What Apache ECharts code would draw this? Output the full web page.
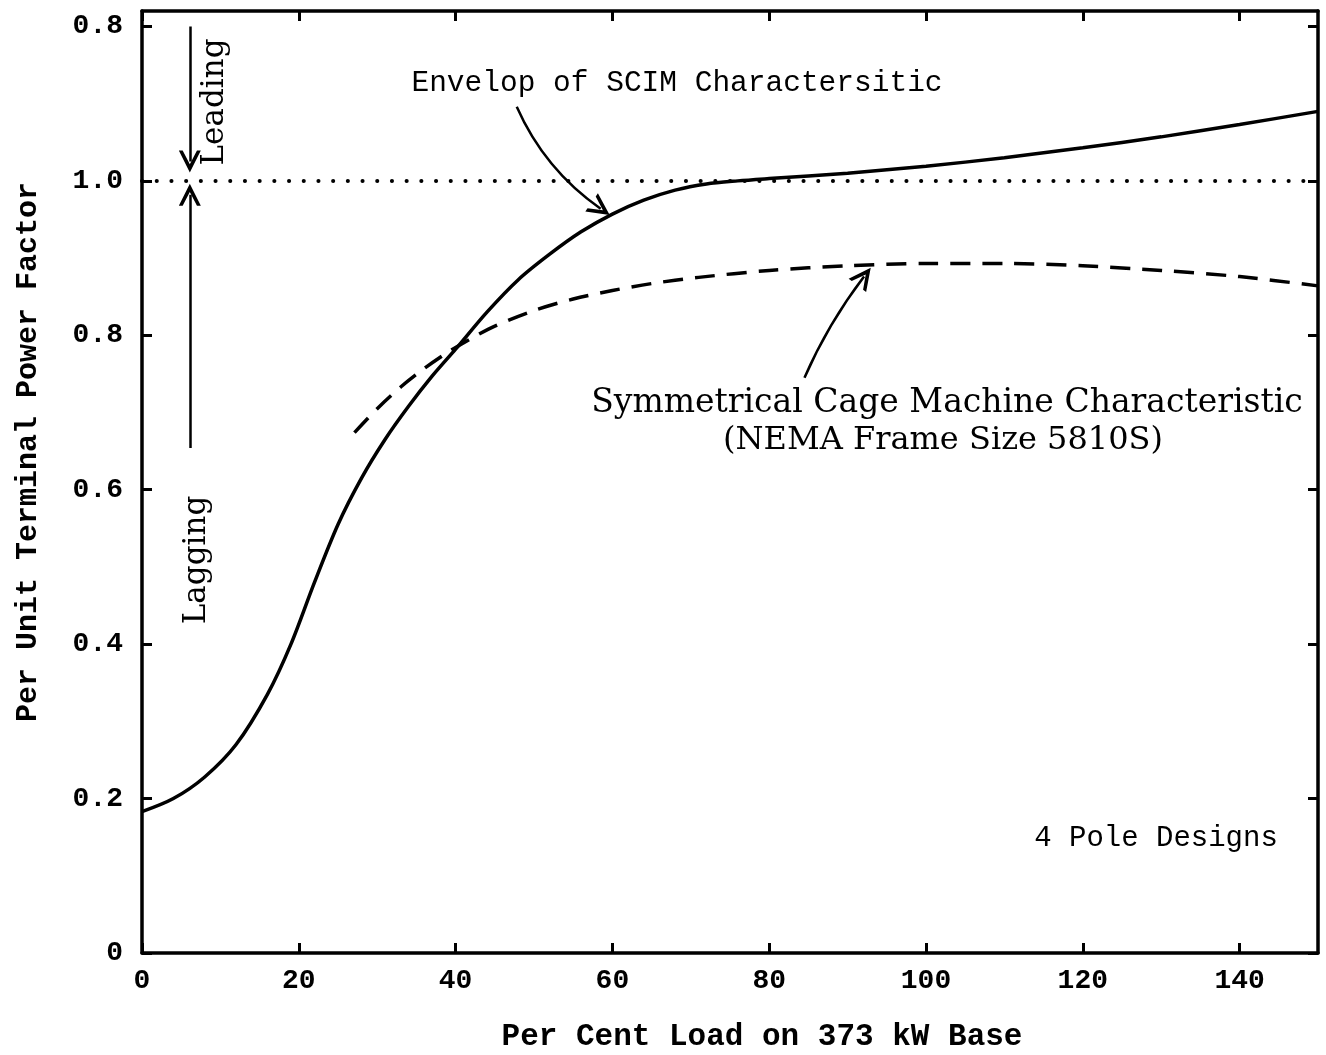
<!DOCTYPE html>
<html>
<head>
<meta charset="utf-8">
<script src="https://cdn.jsdelivr.net/npm/echarts@6/dist/echarts.min.js"></script>
<style>
  html, body { margin: 0; padding: 0; background: #fff; }
  #chart { width: 1326px; height: 1055px; }
</style>
</head>
<body>
<div id="chart"></div>
<script>
// y values are axis positions: above 1.0 the scale runs back down as leading power factor (1.2 = 0.8 leading)
const envelopeLoad = [0, 4, 8, 12, 16, 19, 22, 25, 28, 31, 34, 37, 40, 44, 48, 52, 56, 60, 64, 68, 72, 76, 80, 90, 100, 110, 120, 130, 140, 150]
const envelopePf = [0.183, 0.2, 0.228, 0.27, 0.335, 0.4, 0.48, 0.555, 0.615, 0.665, 0.708, 0.747, 0.782, 0.83, 0.872, 0.905, 0.934, 0.957, 0.975, 0.988, 0.996, 1.0, 1.003, 1.01, 1.019, 1.03, 1.043, 1.057, 1.073, 1.09]

const cageLoad = [27.1, 30, 33, 36, 39, 42, 45, 50, 55, 60, 65, 71, 80, 90, 100, 110, 120, 130, 140, 150]
const cagePf = [0.674, 0.705, 0.733, 0.757, 0.778, 0.796, 0.812, 0.832, 0.847, 0.858, 0.867, 0.875, 0.884, 0.89, 0.893, 0.893, 0.89, 0.884, 0.876, 0.864]

const xTicks = [0, 20, 40, 60, 80, 100, 120, 140]
const yTicks = [0, 0.2, 0.4, 0.6, 0.8, 1.0, 1.2]
const unityPf = 1.0

// annotation arrows: [from, to, curveness]
const arrows = [
  [[6.1, 1.2], [6.1, 1.025], 0],
  [[6.1, 0.654], [6.1, 0.982], 0],
  [[47.8, 1.096], [58.5, 0.964], -0.14],
  [[84.5, 0.745], [92.1, 0.876], 0.06]
]

const mono = "'Liberation Mono', monospace"
const serif = "'DejaVu Serif', serif"
const chevron = 'path://M10,0 L20,24 L16.5,24 L10,9 L3.5,24 L0,24 Z'

function pairs(xs, ys) {
  return xs.map((x, i) => [x, ys[i]])
}

function yLabel(v) {
  if (v === 0) return '0'
  const pf = v > 1.0001 ? 2 - v : v
  return pf.toFixed(1)
}

const frameAxis = {
  axisLine: { show: true, onZero: false, lineStyle: { color: '#000', width: 3.5 } },
  splitLine: { show: false }
}

function ticks(values) {
  return { show: true, inside: true, length: 10, customValues: values, lineStyle: { color: '#000', width: 3 } }
}

const chart = echarts.init(document.getElementById('chart'))

chart.setOption({
  backgroundColor: '#fff',
  animation: false,
  grid: { left: 142, right: 8, top: 11, bottom: 102 },
  xAxis: [
    Object.assign({}, frameAxis, {
      type: 'value', min: 0, max: 150, interval: 20, position: 'bottom',
      axisLabel: { customValues: xTicks, color: '#000', fontFamily: mono, fontWeight: 'bold', fontSize: 28, margin: 14 },
      axisTick: ticks(xTicks)
    }),
    Object.assign({}, frameAxis, {
      type: 'value', min: 0, max: 150, interval: 20, position: 'top',
      axisLabel: { show: false },
      axisTick: ticks(xTicks)
    })
  ],
  yAxis: [
    Object.assign({}, frameAxis, {
      type: 'value', min: 0, max: 1.22, interval: 0.2, position: 'left',
      axisLabel: { customValues: yTicks, formatter: yLabel, color: '#000', fontFamily: mono, fontWeight: 'bold', fontSize: 28, margin: 19 },
      axisTick: ticks(yTicks)
    }),
    Object.assign({}, frameAxis, {
      type: 'value', min: 0, max: 1.22, interval: 0.2, position: 'right',
      axisLabel: { show: false },
      axisTick: ticks(yTicks)
    })
  ],
  series: [
    {
      name: 'Envelop of SCIM Charactersitic',
      type: 'line',
      data: pairs(envelopeLoad, envelopePf),
      smooth: 0.3,
      showSymbol: false,
      silent: true,
      lineStyle: { color: '#000', width: 3.5 }
    },
    {
      name: 'Symmetrical Cage Machine Characteristic',
      type: 'line',
      data: pairs(cageLoad, cagePf),
      smooth: 0.3,
      showSymbol: false,
      silent: true,
      lineStyle: { color: '#000', width: 3.5, type: [20, 12] },
      markLine: {
        silent: true,
        symbol: 'none',
        label: { show: false },
        lineStyle: { color: '#000', width: 4, type: [0.1, 14.6], cap: 'round' },
        data: [{ yAxis: unityPf }]
      }
    },
    {
      name: 'arrows',
      type: 'lines',
      coordinateSystem: 'cartesian2d',
      silent: true,
      symbol: ['none', chevron],
      symbolSize: 22,
      lineStyle: { color: '#000', width: 2.5, opacity: 1 },
      data: arrows.map(a => ({ coords: [a[0], a[1]], lineStyle: { curveness: a[2] } }))
    }
  ],
  graphic: [
    { type: 'text', x: 677, y: 83, style: { text: 'Envelop of SCIM Charactersitic', font: '29.5px ' + mono, fill: '#000', align: 'center', verticalAlign: 'middle' } },
    { type: 'text', x: 947, y: 403, style: { text: 'Symmetrical Cage Machine Characteristic', font: '33px ' + serif, fill: '#000', align: 'center', verticalAlign: 'middle' } },
    { type: 'text', x: 943, y: 441, style: { text: '(NEMA Frame Size 5810S)', font: '32px ' + serif, fill: '#000', align: 'center', verticalAlign: 'middle' } },
    { type: 'text', x: 1156, y: 838, style: { text: '4 Pole Designs', font: '29px ' + mono, fill: '#000', align: 'center', verticalAlign: 'middle' } },
    { type: 'text', x: 215, y: 102, rotation: Math.PI / 2, style: { text: 'Leading', font: '31px ' + serif, fill: '#000', align: 'center', verticalAlign: 'middle' } },
    { type: 'text', x: 197, y: 560, rotation: Math.PI / 2, style: { text: 'Lagging', font: '31px ' + serif, fill: '#000', align: 'center', verticalAlign: 'middle' } },
    { type: 'text', x: 762, y: 1037, style: { text: 'Per Cent Load on 373 kW Base', font: 'bold 31px ' + mono, fill: '#000', align: 'center', verticalAlign: 'middle' } },
    { type: 'text', x: 28, y: 452, rotation: Math.PI / 2, style: { text: 'Per Unit Terminal Power Factor', font: 'bold 30px ' + mono, fill: '#000', align: 'center', verticalAlign: 'middle' } }
  ]
})
</script>
</body>
</html>
